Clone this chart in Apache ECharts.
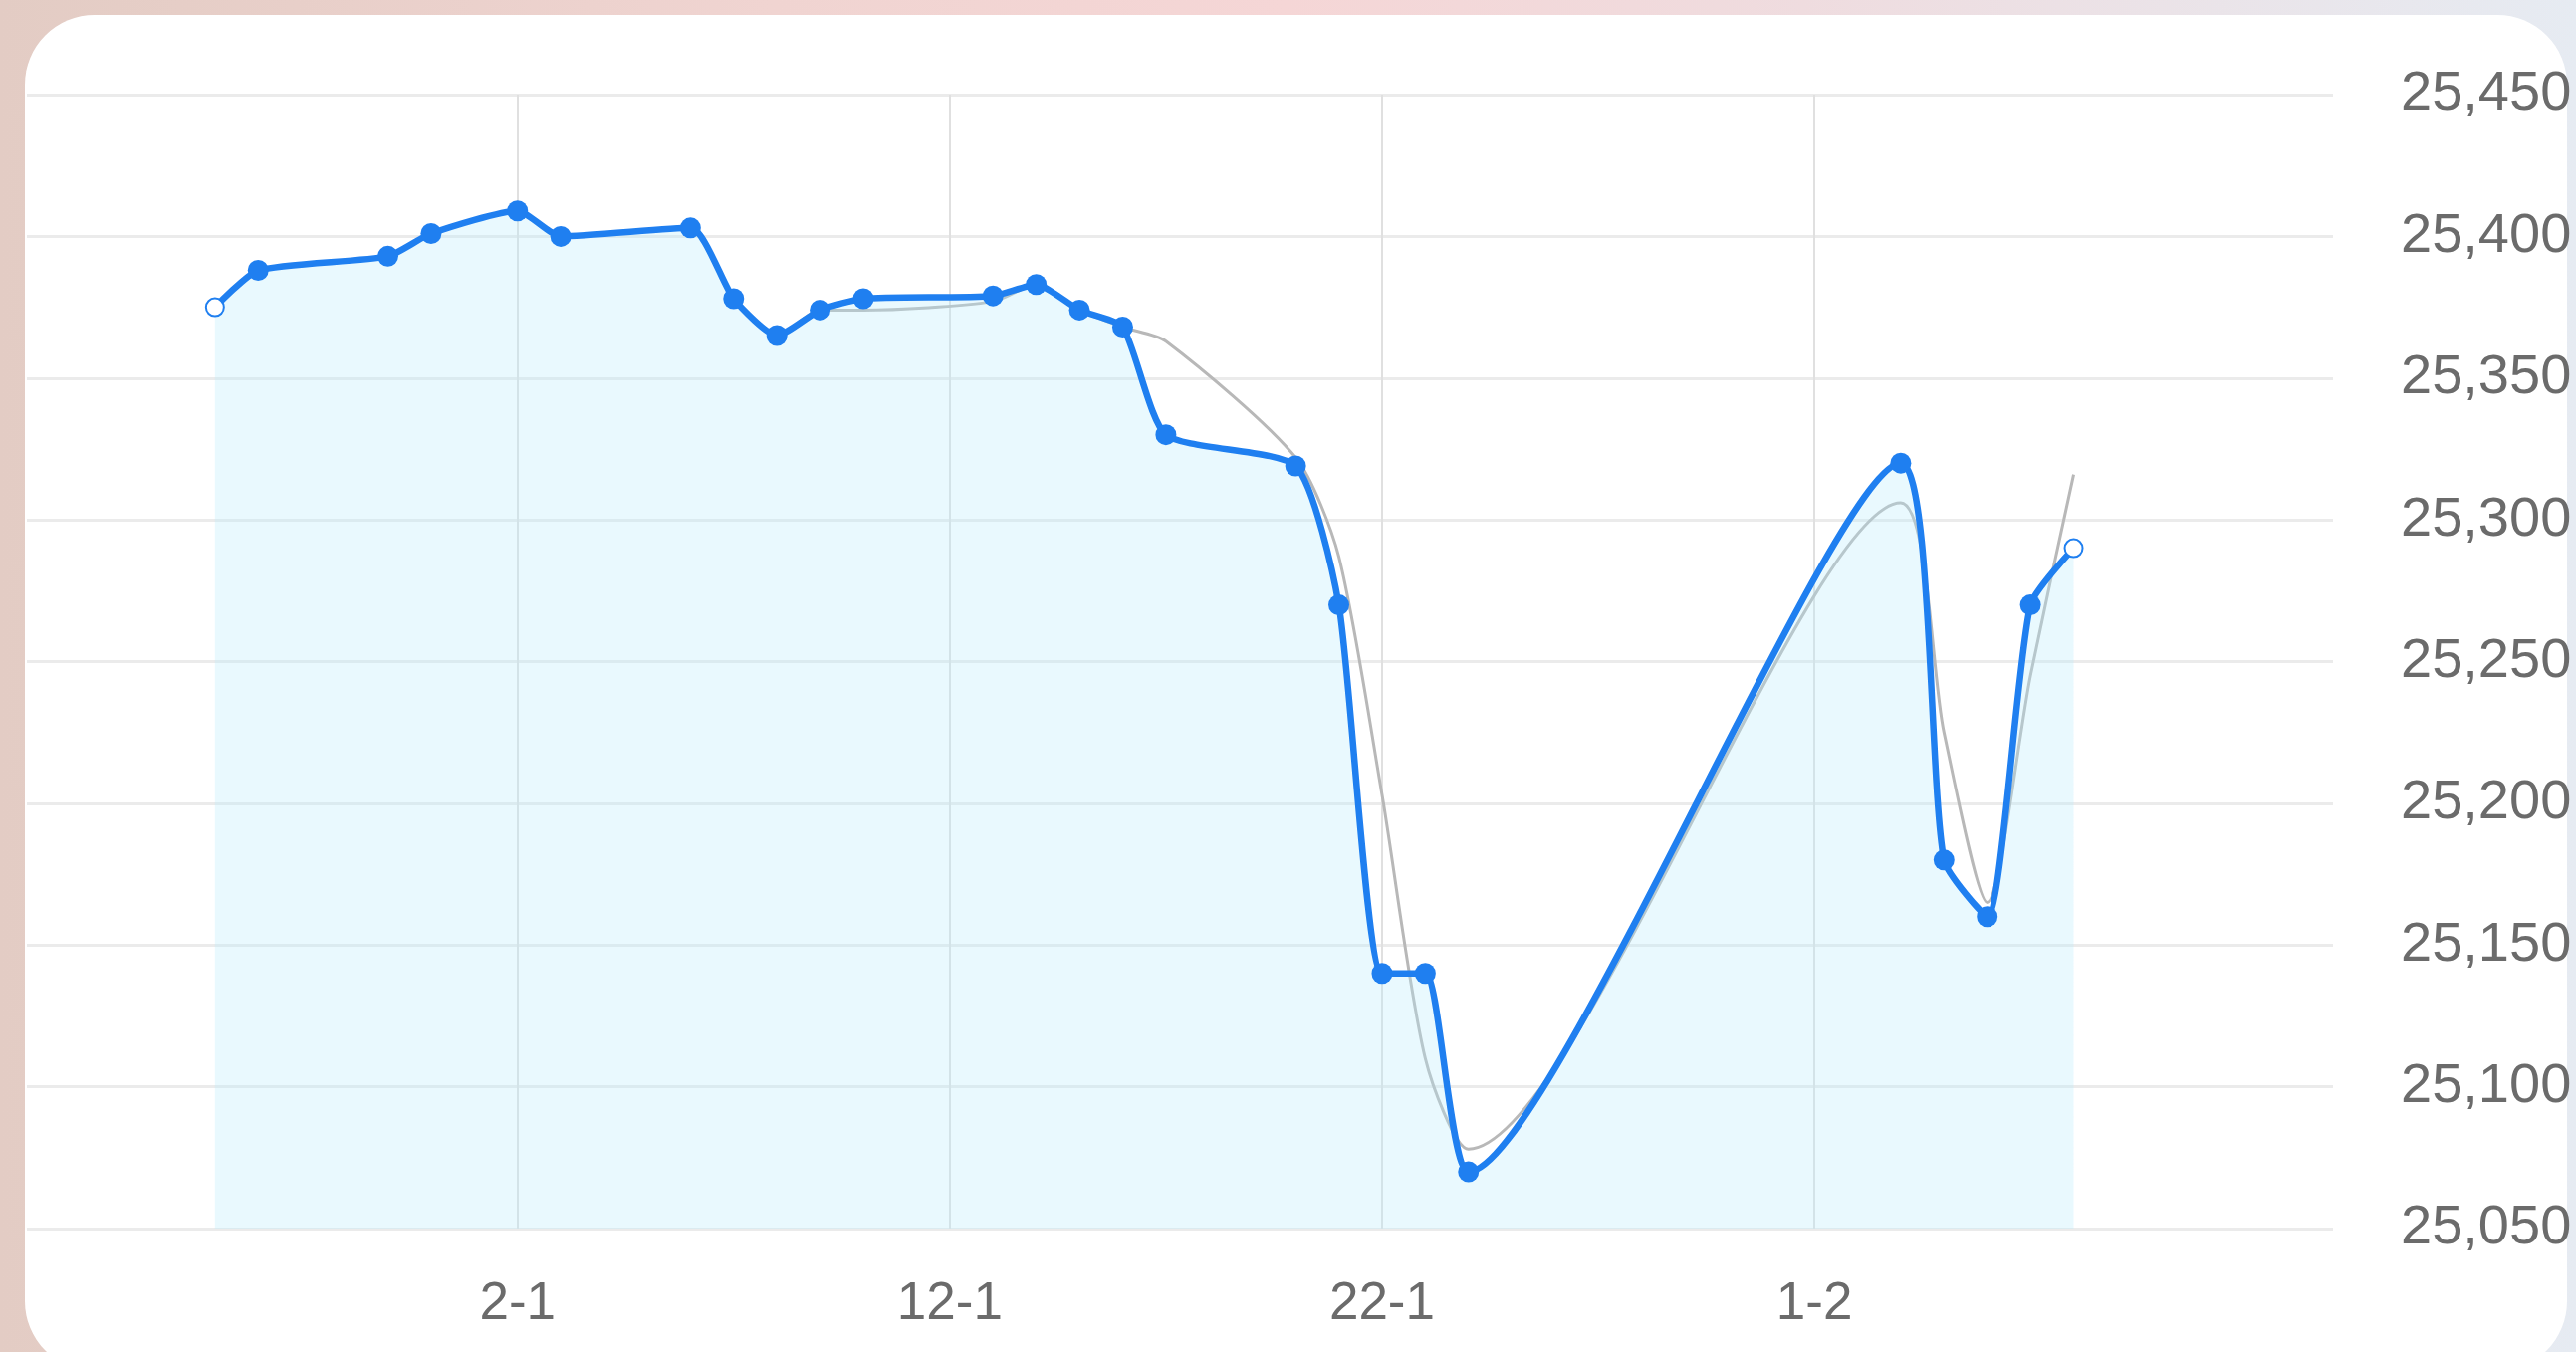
<!DOCTYPE html>
<html>
<head>
<meta charset="utf-8">
<script src="https://cdn.jsdelivr.net/npm/echarts@6/dist/echarts.min.js"></script>
<style>
  html, body { margin: 0; padding: 0; width: 2587px; height: 1358px; overflow: hidden; }
  body { background: linear-gradient(90deg, #e3ccc4 0%, #f0d4d1 30%, #f5d6d6 50%, #efdcdf 70%, #e6ebf2 100%); position: relative; }
  #card { position: absolute; left: 25px; top: 15px; width: 2553px; height: 1362px; background: #ffffff; border-radius: 70px; }
  #chart { position: absolute; left: 0; top: 0; width: 2587px; height: 1358px; }
</style>
</head>
<body>
<div id="card"></div>
<div id="chart"></div>
<script>
// ---- data ----
const dates = ['2024-12-26','2024-12-27','2024-12-30','2024-12-31','2025-01-02','2025-01-03','2025-01-06','2025-01-07','2025-01-08','2025-01-09','2025-01-10','2025-01-13','2025-01-14','2025-01-15','2025-01-16','2025-01-17','2025-01-20','2025-01-21','2025-01-22','2025-01-23','2025-01-24','2025-02-03','2025-02-04','2025-02-05','2025-02-06','2025-02-07'];
const rateValues = [25375,25388,25393,25401,25409,25400,25403,25378,25365,25374,25378,25379,25383,25374,25368,25330,25319,25270,25140,25140,25070,25320,25180,25160,25270,25290];
const refValues  = [25375,25388,25393,25401,25409,25400,25403,25378,25365,25374,25374,25377,25383,25374,25368,25363,25322,25287,25203,25110,25078,25306,25225,25165,25245,25316];
const xTickDates = ['2025-01-02','2025-01-12','2025-01-22','2025-02-01'];
const yMin = 25050, yMax = 25450, yStep = 50;

// ---- helpers ----
const DAY = 864e5;
function ts(s) { const p = s.split('-').map(Number); return Date.UTC(p[0], p[1] - 1, p[2]); }
const xMin = ts('2025-01-02') - 11.35 * DAY;
const xMax = ts('2025-02-13');
const xTicks = xTickDates.map(ts);

const BLUE = '#1f7ff0';
const rateData = dates.map((d, i) => {
  const edge = (i === 0 || i === dates.length - 1);
  return {
    value: [ts(d), rateValues[i]],
    symbol: edge ? 'emptyCircle' : 'circle',
    symbolSize: edge ? 18 : 21,
    itemStyle: edge ? { color: BLUE, borderWidth: 5 } : { color: BLUE }
  };
});
const refData = dates.map((d, i) => [ts(d), refValues[i]]);

const chart = echarts.init(document.getElementById('chart'), null, { renderer: 'canvas' });
const fontFamily = '"Liberation Sans", Arial, sans-serif';

chart.setOption({
  animation: false,
  backgroundColor: 'transparent',
  grid: { left: 27, right: 244, top: 95, bottom: 124, containLabel: false },
  xAxis: {
    type: 'value',
    min: xMin,
    max: xMax,
    axisLine: { show: false },
    axisTick: { show: false, customValues: xTicks },
    axisLabel: {
      customValues: xTicks,
      margin: 50,
      fontFamily: fontFamily, fontSize: 53, color: '#6b6b6b',
      formatter: function (v) { const d = new Date(v); return d.getUTCDate() + '-' + (d.getUTCMonth() + 1); }
    },
    splitLine: { show: true, lineStyle: { color: '#e0e0e0', width: 2 } }
  },
  yAxis: {
    type: 'value',
    position: 'right',
    min: yMin,
    max: yMax,
    interval: yStep,
    axisLine: { show: false },
    axisTick: { show: false },
    axisLabel: {
      margin: 68,
      fontFamily: fontFamily, fontSize: 56, color: '#6b6b6b',
      formatter: function (v) { return v.toLocaleString('en-US'); }
    },
    splitLine: { show: true, lineStyle: { color: '#ebebeb', width: 3 } }
  },
  series: [
    {
      type: 'line',
      data: refData,
      smooth: 0.25,
      showSymbol: false,
      symbol: 'none',
      lineStyle: { color: '#b8b8b8', width: 3 },
      z: 2
    },
    {
      type: 'line',
      data: rateData,
      smooth: 0.2,
      lineStyle: { color: BLUE, width: 6.5 },
      areaStyle: { color: 'rgba(180,234,250,0.42)' },
      z: 3
    }
  ]
});
</script>
</body>
</html>
